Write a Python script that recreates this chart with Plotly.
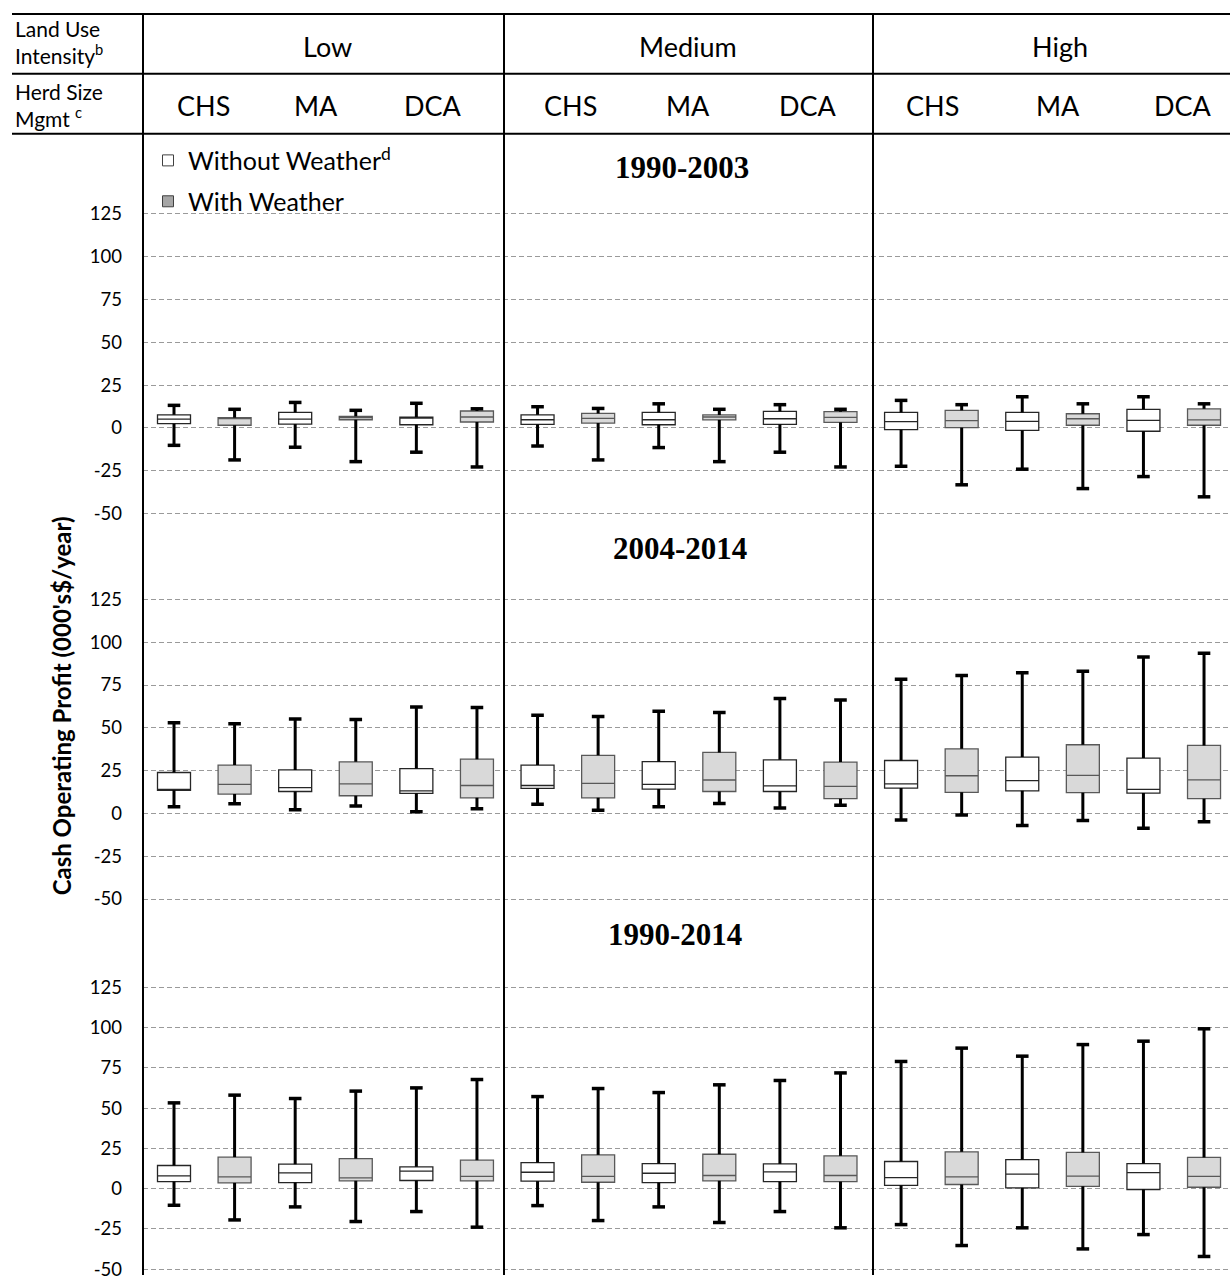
import plotly.graph_objects as go

# ---- categories -------------------------------------------------------
land_use = ["Low", "Medium", "High"]
herd_mgmt = ["CHS", "MA", "DCA"]
periods = ["1990-2003", "2004-2014", "1990-2014"]
y_ticks = [-50, -25, 0, 25, 50, 75, 100, 125]

# ---- five-number summaries (000's $/year) -----------------------------
# order: Low CHS, Low MA, Low DCA, Medium CHS, Medium MA, Medium DCA,
#        High CHS, High MA, High DCA

# 1990-2003, without weather
p1_wo_min = [-10.1, -11.2, -14.1, -10.5, -11.4, -14.1, -22.3, -24.0, -28.3]
p1_wo_q1 = [2.5, 2.3, 1.9, 2.1, 1.9, 2.1, -1.0, -1.4, -1.9]
p1_wo_med = [5.2, 5.2, 5.8, 4.8, 4.8, 5.4, 3.7, 3.9, 4.5]
p1_wo_q3 = [7.7, 9.1, 6.3, 7.7, 9.1, 9.7, 9.1, 9.1, 10.9]
p1_wo_max = [13.2, 14.9, 14.4, 12.4, 14.1, 13.6, 16.1, 18.2, 18.2]
# 1990-2003, with weather
p1_w_min = [-18.6, -19.6, -22.7, -18.6, -19.6, -22.7, -33.1, -35.3, -40.1]
p1_w_q1 = [1.6, 4.8, 3.5, 2.9, 4.7, 3.3, 0.2, 1.6, 1.6]
p1_w_med = [5.5, 6.0, 6.4, 5.6, 6.4, 6.2, 4.3, 5.4, 4.7]
p1_w_q3 = [6.0, 6.8, 9.9, 8.5, 7.6, 9.5, 10.3, 8.3, 11.2]
p1_w_max = [10.9, 10.3, 11.2, 11.4, 10.9, 10.9, 13.6, 14.1, 14.1]

# 2004-2014, without weather
p2_wo_min = [3.9, 2.1, 1.0, 5.3, 3.9, 3.1, -3.9, -7.0, -8.6]
p2_wo_q1 = [13.5, 12.8, 11.7, 14.6, 14.2, 12.8, 14.8, 13.2, 11.9]
p2_wo_med = [14.0, 15.1, 13.2, 16.3, 16.9, 16.1, 17.3, 19.1, 14.0]
p2_wo_q3 = [23.9, 25.4, 26.2, 28.2, 30.2, 31.3, 30.9, 32.9, 32.3]
p2_wo_max = [53.0, 55.1, 62.1, 57.4, 59.7, 67.1, 78.4, 82.1, 91.4]
# 2004-2014, with weather
p2_w_min = [5.6, 4.3, 2.7, 1.8, 5.8, 4.7, -1.0, -4.1, -4.9]
p2_w_q1 = [11.3, 10.3, 9.1, 9.1, 12.8, 8.6, 12.3, 12.1, 8.6]
p2_w_med = [16.9, 17.3, 16.3, 17.5, 19.5, 15.8, 22.0, 22.2, 19.6]
p2_w_q3 = [28.2, 30.1, 31.7, 33.9, 35.6, 30.0, 37.7, 40.1, 39.7]
p2_w_max = [52.4, 54.8, 61.9, 56.6, 58.9, 66.3, 80.5, 83.1, 93.6]

# 1990-2014, without weather
p3_wo_min = [-10.4, -11.4, -14.3, -10.6, -11.4, -14.3, -22.4, -24.4, -28.6]
p3_wo_q1 = [4.3, 3.7, 5.0, 4.6, 3.7, 4.3, 1.9, 0.4, -0.6]
p3_wo_med = [7.9, 9.7, 10.8, 10.1, 9.5, 10.4, 6.8, 8.9, 9.9]
p3_wo_q3 = [14.3, 15.1, 13.5, 16.1, 15.5, 15.3, 16.8, 18.0, 15.5]
p3_wo_max = [53.2, 55.9, 62.5, 57.1, 59.6, 67.1, 78.9, 82.2, 91.5]
# 1990-2014, with weather
p3_w_min = [-19.5, -20.5, -24.0, -19.9, -21.1, -24.4, -35.4, -37.5, -42.2]
p3_w_q1 = [3.5, 4.8, 4.8, 3.9, 4.8, 4.3, 2.5, 1.4, 0.8]
p3_w_med = [7.2, 6.6, 7.5, 7.5, 8.1, 8.1, 7.2, 7.7, 7.5]
p3_w_q3 = [19.5, 18.6, 17.6, 20.9, 21.3, 20.3, 22.8, 22.4, 19.3]
p3_w_max = [58.0, 60.5, 67.7, 62.1, 64.4, 71.8, 87.2, 89.4, 99.2]

panels = [
    ((p1_wo_min, p1_wo_q1, p1_wo_med, p1_wo_q3, p1_wo_max),
     (p1_w_min, p1_w_q1, p1_w_med, p1_w_q3, p1_w_max)),
    ((p2_wo_min, p2_wo_q1, p2_wo_med, p2_wo_q3, p2_wo_max),
     (p2_w_min, p2_w_q1, p2_w_med, p2_w_q3, p2_w_max)),
    ((p3_wo_min, p3_wo_q1, p3_wo_med, p3_wo_q3, p3_wo_max),
     (p3_w_min, p3_w_q1, p3_w_med, p3_w_q3, p3_w_max)),
]

# ---- page geometry (pixels) -------------------------------------------
W, H = 1230, 1287
FONT = "Lato"


def fx(p):
    return p / W


def fy(p):
    return 1 - p / H


# x: box slot 0..17, 60.59 px apart, first slot centred at 174 px
slot_px, slot0_px, plot_left = 60.59, 174.0, 143.0
x_range = [(plot_left - slot0_px) / slot_px, (W - slot0_px) / slot_px]
box_w = 33 / slot_px

# y: pixel of value 0 and px per unit for each panel
y_zero = [427.0, 813.3, 1189.3]
y_scale = [1.72, 1.716, 1.614]
y_range = [-56, 131]

fig = go.Figure()

white_fill, grey_fill = "#ffffff", "#d9d9d9"
for k, (wo, wi) in enumerate(panels):
    xa = "x" if k == 0 else f"x{k + 1}"
    ya = "y" if k == 0 else f"y{k + 1}"
    for j, (stats, fill, edge) in enumerate(
            [(wo, white_fill, "#262626"), (wi, grey_fill, "#595959")]):
        lo, q1, med, q3, hi = stats
        xs = [2 * b + j for b in range(len(lo))]
        # whisker stems (outside the box)
        wx, wy = [], []
        for i, x in enumerate(xs):
            wx += [x, x, None, x, x, None]
            wy += [q3[i], hi[i], None, lo[i], q1[i], None]
        fig.add_trace(go.Scatter(
            x=wx, y=wy, mode="lines", xaxis=xa, yaxis=ya,
            line=dict(color="black", width=3), showlegend=False,
            hoverinfo="skip"))
        # whisker caps
        fig.add_trace(go.Scatter(
            x=xs + xs, y=list(hi) + list(lo), mode="markers",
            xaxis=xa, yaxis=ya, showlegend=False, hoverinfo="skip",
            marker=dict(symbol="line-ew", size=9,
                        line=dict(color="black", width=3.5))))
        # boxes
        fig.add_trace(go.Box(
            x=xs, q1=q1, median=med, q3=q3, lowerfence=q1, upperfence=q3,
            xaxis=xa, yaxis=ya, width=box_w, whiskerwidth=0,
            fillcolor=fill, line=dict(color=edge, width=1.3),
            boxpoints=False, showlegend=False, hoverinfo="skip"))

# legend entries
fig.add_trace(go.Scatter(
    x=[None], y=[None], mode="markers", name="Without Weather<sup>d</sup>",
    legend="legend",
    marker=dict(symbol="square", size=11, color="white",
                line=dict(color="#404040", width=1))))
fig.add_trace(go.Scatter(
    x=[None], y=[None], mode="markers", name="With Weather",
    legend="legend2",
    marker=dict(symbol="square", size=11, color="#a6a6a6",
                line=dict(color="#404040", width=1))))

axis_common = dict(showline=False, zeroline=False)
legend_common = dict(xanchor="left", yanchor="middle",
                     bgcolor="rgba(0,0,0,0)", font=dict(size=25, family=FONT),
                     itemwidth=30, tracegroupgap=0)
layout = dict(
    width=W, height=H, margin=dict(l=0, r=0, t=0, b=0),
    paper_bgcolor="white", plot_bgcolor="white",
    font=dict(family=FONT, color="black"),
    boxmode="overlay",
    legend=dict(x=fx(148), y=fy(159), **legend_common),
    legend2=dict(x=fx(148), y=fy(200), **legend_common),
)
for k in range(3):
    sx = "xaxis" if k == 0 else f"xaxis{k + 1}"
    sy = "yaxis" if k == 0 else f"yaxis{k + 1}"
    top_px = y_zero[k] - y_scale[k] * y_range[1]
    bot_px = y_zero[k] - y_scale[k] * y_range[0]
    layout[sx] = dict(domain=[fx(plot_left), 1], range=x_range,
                      showticklabels=False, showgrid=False,
                      anchor="y" if k == 0 else f"y{k + 1}", **axis_common)
    layout[sy] = dict(domain=[fy(bot_px), fy(top_px)], range=y_range,
                      tickvals=y_ticks, ticktext=[str(v) for v in y_ticks],
                      ticks="", ticklabelstandoff=20,
                      tickfont=dict(size=18.5, family=FONT),
                      showgrid=True, gridcolor="#9a9a9a", gridwidth=1,
                      griddash="5px,3px",
                      anchor="x" if k == 0 else f"x{k + 1}", **axis_common)
fig.update_layout(**layout)

# ---- table rules ------------------------------------------------------
rule = dict(color="black", width=2)
for yp in (12, 72, 132):
    fig.add_shape(type="line", xref="paper", yref="paper",
                  x0=fx(12), x1=1, y0=fy(yp), y1=fy(yp), line=rule)
for xp in (143, 504, 873):
    fig.add_shape(type="line", xref="paper", yref="paper",
                  x0=fx(xp), x1=fx(xp), y0=fy(12), y1=fy(1276), line=rule)

# ---- header text ------------------------------------------------------
notes = []
notes.append(dict(x=fx(13), y=fy(40), text="Land Use<br>Intensity<sup>b</sup>",
                  xanchor="left", align="left", font=dict(size=21)))
notes.append(dict(x=fx(13), y=fy(103), text="Herd Size<br>Mgmt <sup>c</sup>",
                  xanchor="left", align="left", font=dict(size=21)))
for name, xp in zip(land_use, (327, 688, 1060)):
    notes.append(dict(x=fx(xp), y=fy(45), text=name, font=dict(size=27)))
mgmt_px = [(203, 316, 433), (570, 688, 808), (932, 1058, 1183)]
for row in mgmt_px:
    for name, xp in zip(herd_mgmt, row):
        notes.append(dict(x=fx(xp), y=fy(104), text=name, font=dict(size=27)))
for name, (xp, yp) in zip(periods, ((682, 166), (680, 548), (675, 935))):
    notes.append(dict(x=fx(xp), y=fy(yp), text=f"<b>{name}</b>",
                      font=dict(size=31, family="Liberation Serif")))
notes.append(dict(x=fx(61), y=fy(706),
                  text="<b>Cash Operating Profit (000's$/year)</b>",
                  textangle=-90, font=dict(size=24)))
for a in notes:
    a.setdefault("xanchor", "center")
    fig.add_annotation(xref="paper", yref="paper", yanchor="middle",
                       showarrow=False, **a)

fig.write_html("out.html")
